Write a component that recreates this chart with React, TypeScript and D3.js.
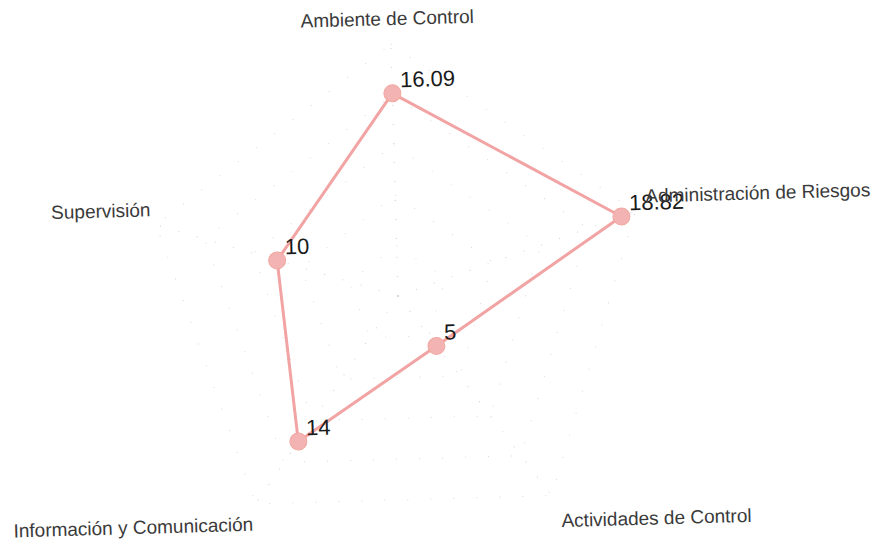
import React from "react";
import * as d3 from "d3";

const categories = [
  "Ambiente de Control",
  "Administración de Riesgos",
  "Actividades de Control",
  "Información y Comunicación",
  "Supervisión",
];
const values = [16.09, 18.82, 5, 14, 10];
const valueLabels = ["16.09", "18.82", "5", "14", "10"];
const maxValue = 20;
const ringTicks = [4, 8, 12, 16, 20];

function App() {
  const width = 879;
  const height = 542;
  const cx = 398;
  const cy = 296;
  const tilt = -1.6; // the scan is slightly rotated

  const rScale = d3.scaleLinear().domain([0, maxValue]).range([0, 252]);
  const angle = d3
    .scaleLinear()
    .domain([0, categories.length])
    .range([-Math.PI / 2, (3 * Math.PI) / 2]);

  const pos = (i: number, r: number): [number, number] => [
    r * Math.cos(angle(i)),
    r * Math.sin(angle(i)),
  ];

  const line = d3
    .line<number>()
    .x((d, i) => pos(i, rScale(d))[0])
    .y((d, i) => pos(i, rScale(d))[1])
    .curve(d3.curveLinearClosed);

  const ring = (t: number) =>
    d3
      .line<string>()
      .x((_, i) => pos(i, rScale(t))[0])
      .y((_, i) => pos(i, rScale(t))[1])
      .curve(d3.curveLinearClosed)(categories);

  const labelR = rScale(maxValue) + 12;

  const axisLabels = categories.map((name, i) => {
    const [x, y] = pos(i, labelR);
    const c = Math.cos(angle(i));
    const s = Math.sin(angle(i));
    let anchor = "middle";
    let dx = 0;
    let dy = 0;
    if (s < -0.9) {
      dy = -7;
      dx = -3;
    } else if (Math.abs(s) < 0.5) {
      anchor = c > 0 ? "start" : "end";
      dy = -5;
      dx = c > 0 ? -1 : 6;
    } else {
      anchor = c > 0 ? "start" : "end";
      dx = c > 0 ? 2 : 4;
      dy = c > 0 ? 22 : 17;
    }
    return (
      <text
        key={name}
        x={x + dx}
        y={y + dy}
        textAnchor={anchor}
        fontSize={19}
        fill="#3a3a3a"
        fontFamily="Liberation Sans, Arial, sans-serif"
      >
        {name}
      </text>
    );
  });

  return (
    <svg
      width={width}
      height={height}
      style={{ position: "absolute", left: 0, top: 0, background: "#fff" }}
    >
      <g transform={`translate(${cx},${cy}) rotate(${tilt})`}>
        {ringTicks.map((t) => (
          <path
            key={t}
            d={ring(t) ?? ""}
            fill="none"
            stroke="#d8d8d8"
            strokeWidth={1}
            strokeDasharray="1 22"
          />
        ))}
        {categories.map((name, i) => {
          const [x, y] = pos(i, rScale(maxValue));
          return (
            <line
              key={name}
              x1={0}
              y1={0}
              x2={x}
              y2={y}
              stroke="#d0d0d0"
              strokeWidth={1}
              strokeDasharray="1 18"
            />
          );
        })}
        <path
          d={line(values) ?? ""}
          fill="none"
          stroke="#f2a3a3"
          strokeWidth={3}
          strokeLinejoin="round"
        />
        {values.map((v, i) => {
          const [x, y] = pos(i, rScale(v));
          return (
            <circle key={i} cx={x} cy={y} r={8.5} fill="#f4b3b3" stroke="#f0a8a0" strokeWidth={1} />
          );
        })}
        {values.map((v, i) => {
          const [x, y] = pos(i, rScale(v));
          return (
            <text
              key={i}
              x={x + 8}
              y={y - 6}
              fontSize={22}
              fill="#1a1a1a"
              fontFamily="Liberation Sans, Arial, sans-serif"
            >
              {valueLabels[i]}
            </text>
          );
        })}
        {axisLabels}
      </g>
    </svg>
  );
}

export default App;
